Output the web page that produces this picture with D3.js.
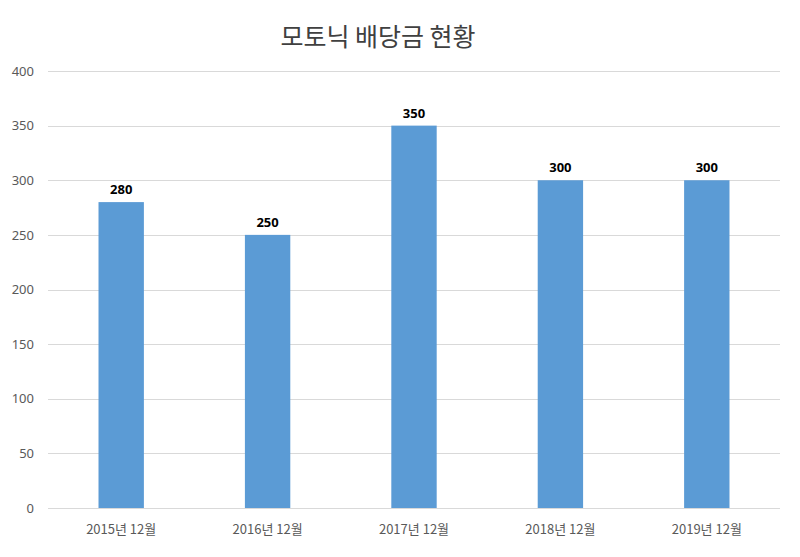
<!DOCTYPE html>
<html>
<head>
<meta charset="utf-8">
<script src="https://cdn.jsdelivr.net/npm/d3@7"></script>
<style>
body { margin: 0; background: #fff; }
text { font-family: "Noto Sans CJK KR", "Noto Sans", sans-serif; }
</style>
</head>
<body>
<div id="chart"></div>
<script>
var categories = ["2015년 12월", "2016년 12월", "2017년 12월", "2018년 12월", "2019년 12월"],
	values = [280, 250, 350, 300, 300],
	yTicks = [0, 50, 100, 150, 200, 250, 300, 350, 400];

var width = 800,
	height = 557,
	plotLeft = 48, plotRight = 780, plotTop = 71, plotBottom = 508;

var svg = d3.select("#chart")
	.append("svg")
	.attr("width", width)
	.attr("height", height);

var x = d3.scaleBand()
	.domain(categories)
	.range([plotLeft, plotRight])
	.paddingInner(0.69)
	.paddingOuter(0.345);

var y = d3.scaleLinear()
	.domain([0, 400])
	.range([plotBottom, plotTop]);

svg.append("text")
	.attr("x", 378)
	.attr("y", 46)
	.attr("text-anchor", "middle")
	.attr("fill", "#404040")
	.style("font-size", "25px")
	.text("모토닉 배당금 현황");

// grid
svg.selectAll("line.grid")
	.data(yTicks)
	.enter()
	.append("line")
	.attr("class", "grid")
	.attr("x1", plotLeft)
	.attr("x2", plotRight)
	.attr("y1", function(d){ return Math.round(y(d)) + 0.5; })
	.attr("y2", function(d){ return Math.round(y(d)) + 0.5; })
	.attr("stroke", "#d9d9d9")
	.attr("stroke-width", 1);

var yAxis = svg.append("g")
	.attr("transform", "translate(" + (plotLeft - 10) + ",0)")
	.call(d3.axisLeft(y).tickValues(yTicks).tickSize(0).tickPadding(4));
yAxis.select(".domain").remove();
yAxis.selectAll("text")
	.attr("fill", "#595959")
	.style("font-size", "13px")
	.style("font-family", "'Noto Sans', sans-serif");

var xAxis = svg.append("g")
	.attr("transform", "translate(0," + plotBottom + ")")
	.call(d3.axisBottom(x).tickSize(0).tickPadding(17));
xAxis.select(".domain").remove();
xAxis.selectAll("text")
	.attr("fill", "#595959")
	.style("font-size", "13px");

svg.selectAll("rect.bar")
	.data(values)
	.enter()
	.append("rect")
	.attr("class", "bar")
	.attr("x", function(d, i){ return x(categories[i]); })
	.attr("width", x.bandwidth())
	.attr("y", function(d){ return y(d); })
	.attr("height", function(d){ return y(0) - y(d); })
	.attr("fill", "#5b9bd5");

svg.selectAll("text.label")
	.data(values)
	.enter()
	.append("text")
	.attr("class", "label")
	.attr("x", function(d, i){ return x(categories[i]) + x.bandwidth() / 2; })
	.attr("y", function(d){ return y(d) - 8; })
	.attr("text-anchor", "middle")
	.attr("fill", "#000")
	.style("font-size", "13px")
	.style("font-weight", "bold")
	.style("font-family", "'Noto Sans', sans-serif")
	.text(function(d){ return d; });
</script>
</body>
</html>
